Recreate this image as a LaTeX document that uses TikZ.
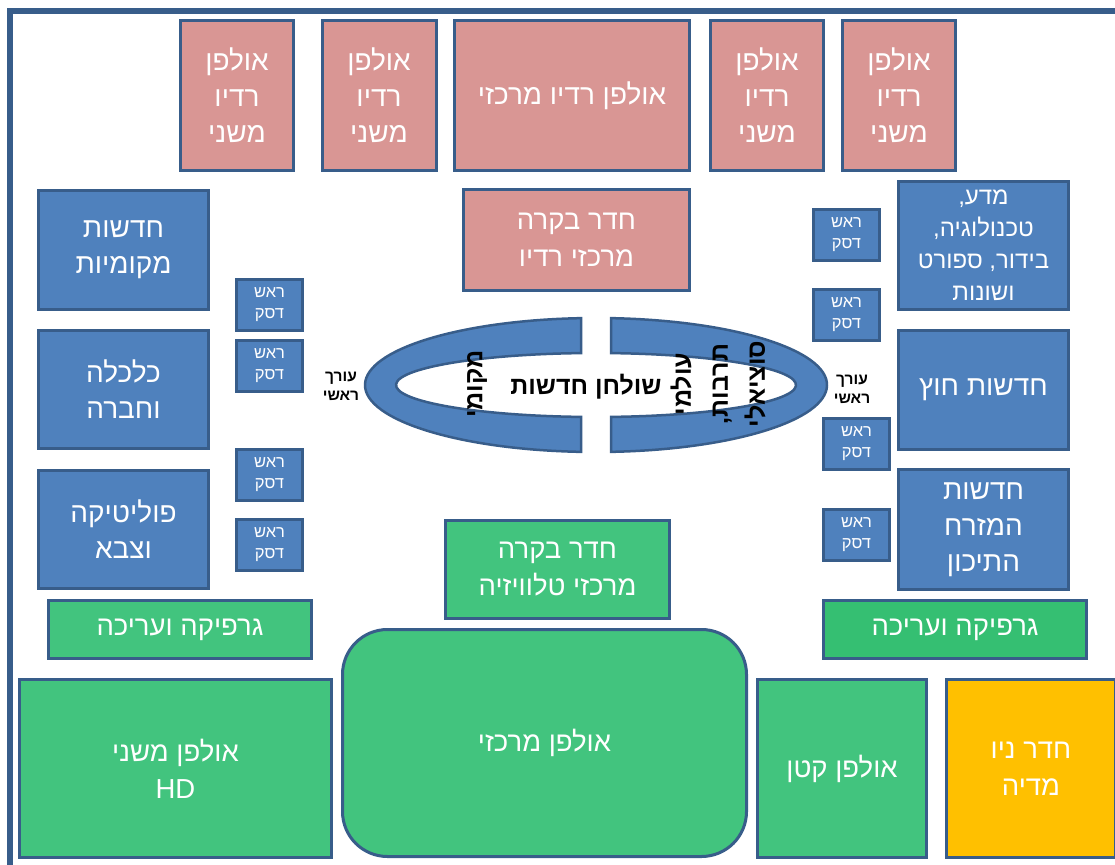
\documentclass[tikz,border=0pt]{standalone}
\usepackage{fontspec}
\setmainfont{Liberation Sans}[Script=Hebrew]
\TeXXeTstate=1
\newcommand{\heb}[1]{\beginR #1\endR}
\definecolor{frameblue}{HTML}{385D8A}
\definecolor{radiopink}{HTML}{D99694}
\definecolor{deskblue}{HTML}{4F81BD}
\definecolor{tvgreen}{HTML}{42C47E}
\definecolor{tvgreendark}{HTML}{35BF72}
\definecolor{mediayellow}{HTML}{FFC000}
\tikzset{
  room/.style={draw=frameblue, line width=3pt, text=white, align=center, inner sep=0pt},
  radio/.style={room, fill=radiopink},
  desk/.style={room, fill=deskblue},
  tv/.style={room, fill=tvgreen},
  headdesk/.style={desk, minimum width=66pt, minimum height=51pt, font=\fontsize{16.5}{21}\selectfont},
  chief/.style={text=black, align=center, inner sep=0pt, font=\bfseries\fontsize{15.5}{19}\selectfont},
  ring/.style={fill=deskblue, draw=frameblue, line width=2.5pt},
  tablelabel/.style={text=black, align=center, inner sep=0pt, font=\bfseries\fontsize{25}{37}\selectfont},
  bigtxt/.style={font=\fontsize{28}{36}\selectfont},
  midtxt/.style={font=\fontsize{27.5}{37}\selectfont},
}
\begin{document}
\begin{tikzpicture}[x=1pt, y=-1pt]
\useasboundingbox (0,0) rectangle (1115,864);
\clip (0,0) rectangle (1115,864);
\fill[white] (0,0) rectangle (1115,864);

% outer wall of the newsroom
\draw[frameblue, line width=5.5pt] (10,11) rectangle (1140,890);

% radio studios
\node[radio, bigtxt, minimum width=113pt, minimum height=150pt] (rad1) at (237,95.5) {\heb{אולפן}\\\heb{רדיו}\\\heb{משני}};
\node[radio, bigtxt, minimum width=114pt, minimum height=150pt] (rad2) at (379,95.5) {\heb{אולפן}\\\heb{רדיו}\\\heb{משני}};
\node[radio, bigtxt, minimum width=235pt, minimum height=150pt] (radmain) at (572,95.5) {\heb{אולפן רדיו מרכזי}};
\node[radio, bigtxt, minimum width=113pt, minimum height=150pt] (rad3) at (767,95.5) {\heb{אולפן}\\\heb{רדיו}\\\heb{משני}};
\node[radio, bigtxt, minimum width=113pt, minimum height=150pt] (rad4) at (899,95.5) {\heb{אולפן}\\\heb{רדיו}\\\heb{משני}};
\node[radio, midtxt, minimum width=226pt, minimum height=101pt] (radctrl) at (576.5,240) {\heb{חדר בקרה}\\\heb{מרכזי רדיו}};

% news desks, left side
\node[desk, bigtxt, minimum width=170pt, minimum height=119pt] (local) at (123.5,250) {\heb{חדשות}\\\heb{מקומיות}};
\node[desk, bigtxt, minimum width=170pt, minimum height=118pt] (economy) at (123.5,389.5) {\heb{כלכלה}\\\heb{וחברה}};
\node[desk, bigtxt, minimum width=170pt, minimum height=118pt] (politics) at (123.5,529.5) {\heb{פוליטיקה}\\\heb{וצבא}};
\node[headdesk] (hl1) at (269.5,305) {\heb{ראש}\\\heb{דסק}};
\node[headdesk] (hl2) at (269.5,365.5) {\heb{ראש}\\\heb{דסק}};
\node[headdesk] (hl3) at (269.5,474.5) {\heb{ראש}\\\heb{דסק}};
\node[headdesk] (hl4) at (269.5,545) {\heb{ראש}\\\heb{דסק}};

% news desks, right side
\node[desk, font=\fontsize{24}{32}\selectfont, minimum width=170pt, minimum height=128pt] (science) at (983.5,245.5) {\heb{מדע,}\\\heb{טכנולוגיה,}\\\heb{בידור, ספורט}\\\heb{ושונות}};
\node[desk, bigtxt, minimum width=170pt, minimum height=119pt] (foreign) at (983.5,390) {\heb{חדשות חוץ}};
\node[desk, bigtxt, minimum width=170pt, minimum height=120pt] (mideast) at (983.5,529.5) {\heb{חדשות}\\\heb{המזרח}\\\heb{התיכון}};
\node[headdesk] (hr1) at (846.5,235) {\heb{ראש}\\\heb{דסק}};
\node[headdesk] (hr2) at (846.5,315) {\heb{ראש}\\\heb{דסק}};
\node[headdesk] (hr3) at (856.5,444) {\heb{ראש}\\\heb{דסק}};
\node[headdesk] (hr4) at (856.5,534.5) {\heb{ראש}\\\heb{דסק}};

% central news table: an oval ring split in two halves
\path[ring] (581,451.86) arc[start angle=93.72, end angle=266.28, x radius=231, y radius=67]
  -- (581,353.09) arc[start angle=265.70, end angle=94.30, x radius=200, y radius=32] -- cycle;
\path[ring] (611,318.14) arc[start angle=-86.28, end angle=86.28, x radius=231, y radius=67]
  -- (611,416.91) arc[start angle=85.70, end angle=-85.70, x radius=200, y radius=32] -- cycle;
\node[tablelabel] (table) at (586,387) {\heb{שולחן חדשות}};
\node[tablelabel, rotate=90] (tableleft) at (477,384) {\heb{מקומי}};
\node[tablelabel, rotate=90] (tableright) at (718,384) {\heb{עולמי}\\\heb{תרבות,}\\\heb{סוציאלי}};
\node[chief] (chiefl) at (341,386) {\heb{עורך}\\\heb{ראשי}};
\node[chief] (chiefr) at (852,389) {\heb{עורך}\\\heb{ראשי}};

% television area
\node[tv, midtxt, minimum width=224pt, minimum height=98pt] (tvctrl) at (557.5,569.5) {\heb{חדר בקרה}\\\heb{מרכזי טלוויזיה}};
\node[tv, midtxt, minimum width=263pt, minimum height=58pt] (gfxl) at (180,629.5) {\heb{גרפיקה ועריכה}};
\node[tv, fill=tvgreendark, midtxt, minimum width=263pt, minimum height=58pt] (gfxr) at (955,629.5) {\heb{גרפיקה ועריכה}};
\node[tv, midtxt, minimum width=312pt, minimum height=178pt] (hd) at (175.5,768.5) {\heb{אולפן משני}\\HD};
\node[tv, midtxt, rounded corners=45pt, minimum width=404pt, minimum height=227pt] (mainstudio) at (544.5,743) {\heb{אולפן מרכזי}};
\node[tv, midtxt, minimum width=169pt, minimum height=178pt] (small) at (842,768.5) {\heb{אולפן קטן}};
\node[room, fill=mediayellow, midtxt, minimum width=169pt, minimum height=178pt] (newmedia) at (1031,768.5) {\heb{חדר ניו}\\\heb{מדיה}};
\end{tikzpicture}
\end{document}
